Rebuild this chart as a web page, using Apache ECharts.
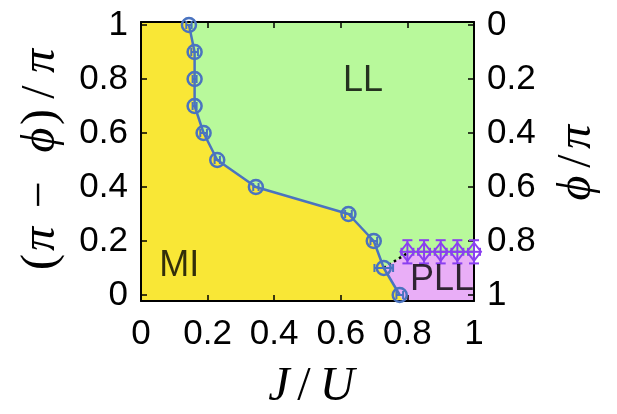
<!DOCTYPE html>
<html><head><meta charset="utf-8">
<script src="https://cdn.jsdelivr.net/npm/echarts@6/dist/echarts.min.js"></script>
<style>html,body{margin:0;padding:0;background:#fff}#c{width:617px;height:414px}</style>
</head><body><div id="c"></div>
<script>
// ---- data ----
const J_blue   = [0.144, 0.161, 0.161, 0.161, 0.188, 0.229, 0.345, 0.623, 0.699, 0.729, 0.777];
const Y_blue   = [1.0, 0.9, 0.8, 0.7, 0.6, 0.5, 0.4, 0.3, 0.2, 0.1, 0.0];
const Jerr_blue = [0.008, 0.01, 0.006, 0.006, 0.01, 0.008, 0.008, 0.01, 0.01, 0.028, 0.01];
const J_purple = [0.8, 0.85, 0.9, 0.95, 1.0];
const Y_purple = [0.16, 0.16, 0.16, 0.16, 0.16];
const Yerr_purple = [0.043, 0.043, 0.043, 0.043, 0.043];
const Jerr_purple = [0.018, 0.018, 0.018, 0.018, 0.018];
const pllJ = [0.729, 0.8, 1.0];
const pllY = [0.1, 0.15, 0.145];
const dottedJ = [0.729, 0.8];
const dottedY = [0.1, 0.155];
const xTicks = [0, 0.2, 0.4, 0.6, 0.8, 1];
const yTicks = [0, 0.2, 0.4, 0.6, 0.8, 1];
const phiTicks = [0, 0.2, 0.4, 0.6, 0.8, 1];
const phaseNames = ['LL', 'MI', 'PLL'];
const phaseJ = [0.667, 0.115, 0.904];
const phaseY = [0.794, 0.107, 0.055];

const yMin = -0.0222, yMax = 1.0111;
const C = {yellow:'#f9e736', green:'#b8f99b', pink:'#e9aef7', blue:'#4a73c0', purple:'#8a3ff0'};

const bluePts = J_blue.map((j,i)=>[j, Y_blue[i]]);
const purplePts = J_purple.map((j,i)=>[j, Y_purple[i]]);
const pllPts = pllJ.map((j,i)=>[j, pllY[i]]);
const lastSlope = (J_blue[10]-J_blue[9])/(Y_blue[10]-Y_blue[9]);
const bottomJ = J_blue[10] + lastSlope*(yMin - Y_blue[10]);

const regions = [
  {color:C.yellow, pts:[[0,yMin],[0,yMax],[J_blue[0],yMax]].concat(bluePts, [[bottomJ,yMin]])},
  {color:C.green, pts:[[J_blue[0],yMax]].concat(bluePts.slice(0,10), pllPts.slice(1), [[1,yMax]])},
  {color:C.pink, pts:bluePts.slice(9).concat([[bottomJ,yMin],[1,yMin]], pllPts.slice().reverse())}
];

const blueErr = J_blue.map((j,i)=>[j, Y_blue[i], Jerr_blue[i], 0]);
const purpleErr = J_purple.map((j,i)=>[j, Y_purple[i], Jerr_purple[i], Yerr_purple[i]]);

function errRender(capX, capY, color, width){
  return function(params, api){
    const x=api.value(0), y=api.value(1), xe=api.value(2), ye=api.value(3);
    const ch=[];
    const ls={stroke:color, lineWidth:width};
    if(xe>0){
      const a=api.coord([x-xe,y]), b=api.coord([x+xe,y]);
      ch.push({type:'line',shape:{x1:a[0],y1:a[1],x2:b[0],y2:b[1]},style:ls});
      ch.push({type:'line',shape:{x1:a[0],y1:a[1]-capY,x2:a[0],y2:a[1]+capY},style:ls});
      ch.push({type:'line',shape:{x1:b[0],y1:b[1]-capY,x2:b[0],y2:b[1]+capY},style:ls});
    }
    if(ye>0){
      const a=api.coord([x,y+ye]), b=api.coord([x,y-ye]);
      ch.push({type:'line',shape:{x1:a[0],y1:a[1],x2:b[0],y2:b[1]},style:ls});
      ch.push({type:'line',shape:{x1:a[0]-capX,y1:a[1],x2:a[0]+capX,y2:a[1]},style:ls});
      ch.push({type:'line',shape:{x1:b[0]-capX,y1:b[1],x2:b[0]+capX,y2:b[1]},style:ls});
    }
    return {type:'group', children:ch};
  };
}

const tickFont = {fontFamily:'Liberation Sans', fontSize:35, color:'#000'};
const axLine = {show:true, onZero:false, lineStyle:{color:'#000', width:2}};
const axTick = {show:true, inside:true, length:6, lineStyle:{color:'#000', width:1.5}};

function mathText(ch, x, y, italic){
  return {type:'text', x:x, y:y, style:{text:ch, fontFamily:'Liberation Serif', fontSize:48, fontWeight:'normal',
    fontStyle: italic?'italic':'normal', fill:'#000', align:'center', verticalAlign:'middle'}};
}

const option = {
  animation:false,
  backgroundColor:'#fff',
  grid:{left:141, right:143, top:22, bottom:113, containLabel:false},
  xAxis:[
    {type:'value', position:'bottom', min:0, max:1, z:1, axisLine:axLine,
     axisTick:Object.assign({customValues:xTicks}, axTick), splitLine:{show:false},
     axisLabel:Object.assign({customValues:xTicks, margin:16}, tickFont)},
    {type:'value', position:'top', min:0, max:1, z:1, axisLine:axLine,
     axisTick:Object.assign({customValues:xTicks}, axTick), splitLine:{show:false},
     axisLabel:{show:false}}
  ],
  yAxis:[
    {type:'value', position:'left', min:yMin, max:yMax, z:1, axisLine:axLine,
     axisTick:Object.assign({customValues:yTicks}, axTick), splitLine:{show:false},
     axisLabel:Object.assign({customValues:yTicks, margin:13}, tickFont)},
    {type:'value', position:'right', inverse:true, min:1-yMax, max:1-yMin, z:1, axisLine:axLine,
     axisTick:Object.assign({customValues:phiTicks}, axTick), splitLine:{show:false},
     axisLabel:Object.assign({customValues:phiTicks, margin:13}, tickFont)}
  ],
  graphic:[
    {type:'group', x:41, y:160, rotation:Math.PI/2, children:[
      mathText('(', -102, 0, false), mathText('π', -79, 0, true), mathText('−', -35, 0, false),
      mathText('ϕ', 20, 0, true), mathText(')', 43, 0, false), mathText('/', 68, 0, false),
      mathText('π', 99, 0, true)
    ]},
    {type:'group', x:577, y:161, rotation:Math.PI/2, children:[
      mathText('ϕ', -27, 0, true), mathText('/', 0, 0, false), mathText('π', 24, 0, true)
    ]},
    {type:'group', x:0, y:387, children:[
      mathText('J', 279, 0, true), mathText('/', 304, 0, false), mathText('U', 337, 0, true)
    ]}
  ],
  series:[
    {type:'custom', z:0, clip:true, silent:true, data:regions.map(()=>[0,0]),
     renderItem:function(params, api){
       const r=regions[params.dataIndex];
       return {type:'polygon', shape:{points:r.pts.map(p=>api.coord(p))},
               style:{fill:r.color, stroke:r.color, lineWidth:0.5}};
     }},
    {type:'line', z:3, data:dottedJ.map((j,i)=>[j,dottedY[i]]), symbol:'none',
     lineStyle:{color:'#000', width:2.5, type:[2.5,3.5]}},
    {type:'line', z:4, data:bluePts, symbol:'circle', symbolSize:14,
     itemStyle:{color:'rgba(0,0,0,0)', borderColor:C.blue, borderWidth:2.5},
     lineStyle:{color:C.blue, width:2.5}},
    {type:'custom', z:5, data:blueErr, encode:{x:0,y:1}, renderItem:errRender(4,4,C.blue,2)},
    {type:'line', z:4, data:purplePts, symbol:'diamond', symbolSize:[14,18],
     itemStyle:{color:'rgba(0,0,0,0)', borderColor:C.purple, borderWidth:2},
     lineStyle:{color:C.purple, width:2}},
    {type:'custom', z:5, data:purpleErr, encode:{x:0,y:1}, renderItem:errRender(5,4,C.purple,2)},
    {type:'scatter', z:6, symbolSize:1, itemStyle:{color:'rgba(0,0,0,0)'},
     data:phaseNames.map((n,i)=>({name:n, value:[phaseJ[i], phaseY[i]]})),
     label:{show:true, position:'inside', formatter:'{b}', fontFamily:'Liberation Sans', fontSize:36, color:'#000'}}
  ]
};
const chart = echarts.init(document.getElementById('c'));
chart.setOption(option);
</script></body></html>
